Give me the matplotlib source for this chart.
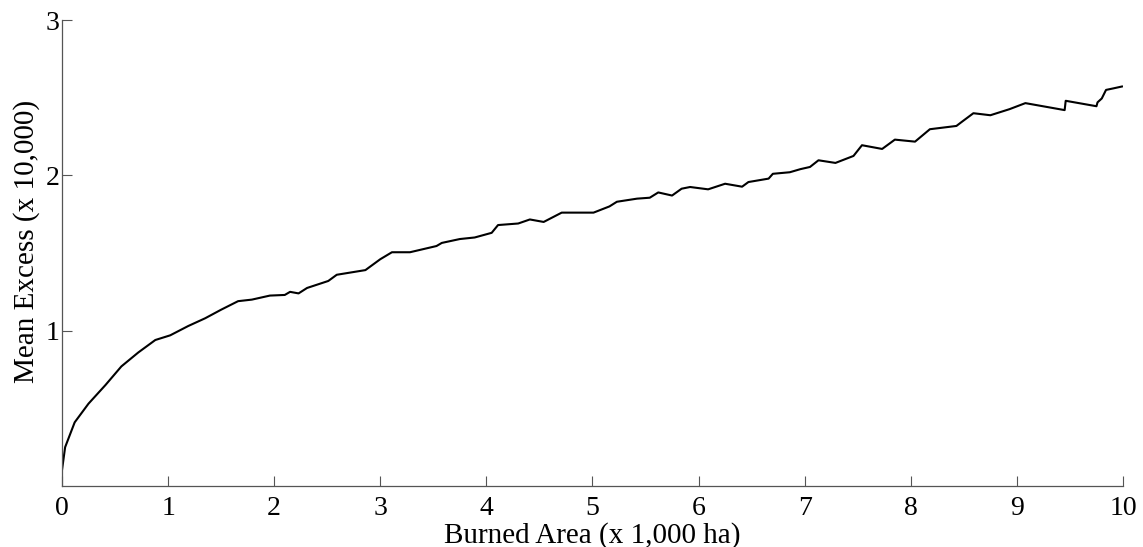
import matplotlib.pyplot as plt

plt.rcParams['font.family'] = ['Liberation Serif', 'DejaVu Serif']

# burned area threshold (x 1,000 ha) and mean excess (x 10,000)
area = [0.0, 0.03, 0.12, 0.25, 0.41, 0.56, 0.72, 0.88, 1.02, 1.19, 1.35, 1.5,
        1.66, 1.79, 1.96, 2.1, 2.15, 2.23, 2.31, 2.51, 2.59, 2.86, 3.0, 3.11,
        3.28, 3.53, 3.58, 3.75, 3.89, 4.05, 4.11, 4.3, 4.41, 4.54, 4.71, 5.01,
        5.16, 5.23, 5.42, 5.54, 5.62, 5.75, 5.84, 5.92, 6.09, 6.25, 6.41, 6.47,
        6.66, 6.70, 6.86, 6.96, 7.05, 7.13, 7.29, 7.46, 7.54, 7.73, 7.85, 8.04,
        8.18, 8.43, 8.48, 8.59, 8.75, 8.93, 9.08, 9.45, 9.46, 9.75, 9.76, 9.80,
        9.84, 9.91, 9.99]
excess = [0.10, 0.25, 0.41, 0.53, 0.65, 0.77, 0.86, 0.94, 0.97, 1.03, 1.08, 1.135,
          1.19, 1.20, 1.226, 1.23, 1.25, 1.24, 1.275, 1.32, 1.36, 1.39, 1.46, 1.505,
          1.505, 1.545, 1.565, 1.59, 1.60, 1.63, 1.68, 1.69, 1.716, 1.70, 1.76, 1.76,
          1.80, 1.83, 1.85, 1.856, 1.89, 1.87, 1.914, 1.925, 1.91, 1.946, 1.927, 1.957,
          1.979, 2.01, 2.02, 2.04, 2.054, 2.097, 2.08, 2.125, 2.194, 2.17, 2.23, 2.217,
          2.297, 2.318, 2.344, 2.40, 2.387, 2.426, 2.465, 2.42, 2.48, 2.445, 2.47, 2.495,
          2.55, 2.56, 2.572]

xticks = list(range(0, 11))
yticks = [1, 2, 3]

fig = plt.figure(figsize=(11.43, 5.47), dpi=100)
ax = fig.add_axes([0.0542, 0.1115, 0.9283, 0.8519])
ax.plot(area, excess, color='black', lw=1.5)

ax.set_xlim(0, 10)
ax.set_ylim(0, 3)
ax.set_xticks(xticks)
ax.set_yticks(yticks)
ax.tick_params(direction='in', length=7, width=0.8, labelsize=20, color='#555555')
ax.tick_params(axis='x', pad=7)
ax.tick_params(axis='y', pad=2)
for side in ['top', 'right']:
    ax.spines[side].set_visible(False)
for side in ['left', 'bottom']:
    ax.spines[side].set_color('#555555')
    ax.spines[side].set_linewidth(0.9)

ax.set_xlabel('Burned Area (x 1,000 ha)', fontsize=21, labelpad=1)
ax.set_ylabel('Mean Excess (x 10,000)', fontsize=21)
ax.yaxis.set_label_coords(-0.021, 0.525)

fig.savefig('out.png', dpi=100)
